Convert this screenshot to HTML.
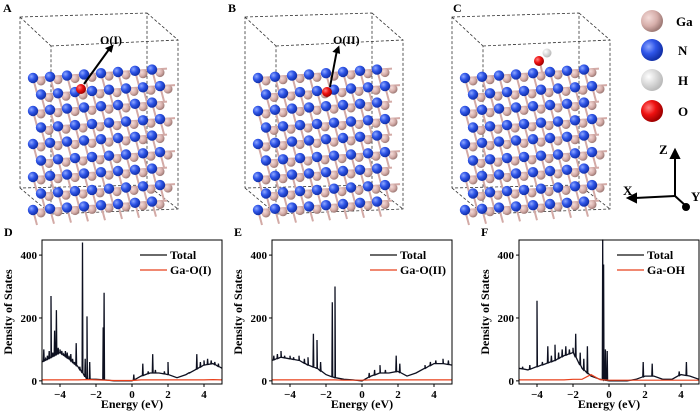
<!DOCTYPE html>
<html><head><meta charset="utf-8"><style>
body{margin:0;background:#fff;}
svg{display:block;font-family:"Liberation Serif",serif;font-weight:bold;}
</style></head><body>
<svg id="fig" width="700" height="412" viewBox="0 0 700 412">
<defs>
<radialGradient id="gN" cx="35%" cy="35%" r="65%"><stop offset="0" stop-color="#8fa8ff"/><stop offset="0.5" stop-color="#2f55e8"/><stop offset="1" stop-color="#1230a8"/></radialGradient>
<radialGradient id="gGa" cx="35%" cy="35%" r="65%"><stop offset="0" stop-color="#f4dcd9"/><stop offset="0.6" stop-color="#d6aeaa"/><stop offset="1" stop-color="#a07c78"/></radialGradient>
<radialGradient id="gH" cx="35%" cy="35%" r="65%"><stop offset="0" stop-color="#ffffff"/><stop offset="1" stop-color="#bbbbbb"/></radialGradient>
<radialGradient id="gO" cx="35%" cy="35%" r="65%"><stop offset="0" stop-color="#ff8080"/><stop offset="0.5" stop-color="#ee1010"/><stop offset="1" stop-color="#a00000"/></radialGradient>
</defs>
<g id="structs"></g>
<g id="legendAtoms">
<circle cx="652" cy="21" r="11" fill="url(#gGa)"/><text x="676" y="26" font-size="13">Ga</text>
<circle cx="652" cy="50" r="11" fill="url(#gN)"/><text x="678" y="55" font-size="13">N</text>
<circle cx="652" cy="80" r="11" fill="url(#gH)"/><text x="678" y="85" font-size="13">H</text>
<circle cx="652" cy="111" r="11" fill="url(#gO)"/><text x="678" y="116" font-size="13">O</text>
</g>
<g stroke="#000" stroke-width="2" fill="none">
<line x1="675" y1="196" x2="675" y2="156"/><polygon points="671,158 679,158 675,150" fill="#000"/>
<line x1="675" y1="196" x2="634" y2="198"/><polygon points="636,194 636,202 628,198" fill="#000"/>
<line x1="675" y1="196" x2="686" y2="206"/><circle cx="686" cy="207" r="3" fill="#000"/>
<text x="659" y="154" font-size="13" fill="#000" stroke="none">Z</text>
<text x="623" y="195" font-size="13" fill="#000" stroke="none">X</text>
<text x="691" y="201" font-size="13" fill="#000" stroke="none">Y</text>
</g>
<g id="charts"></g>
</svg>
<script>
const energyGrid = [-5,-4.5,-4,-3.5,-3,-2.5,-2,-1.5,-1,-0.5,0,0.5,1,1.5,2,2.5,3,3.5,4,4.5,5];
const totalD = [60,75,90,70,45,5,5,3,0,0,0,15,25,25,20,10,20,35,50,55,40];
const partD  = [3,3,3,3,3,4,3,2,1,1,1,3,3,3,3,3,3,3,3,4,3];
const spikesD = [[-4.9,100],[-4.8,70],[-4.7,80],[-4.6,95],[-4.5,270],[-4.4,90],[-4.3,160],[-4.2,225],[-4.1,105],[-4.0,100],[-3.9,95],[-3.8,85],[-3.7,95],[-3.6,90],[-3.5,80],[-3.4,85],[-3.3,70],[-3.2,60],[-3.1,120],[-2.9,45],[-2.75,440],[-2.6,70],[-2.5,205],[-2.35,60],[-1.6,170],[-1.55,280],[0.1,20],[0.6,55],[0.9,30],[1.15,85],[1.3,35],[1.8,30],[2.0,60],[3.2,25],[3.6,85],[3.8,60],[4.0,65],[4.2,70],[4.4,65],[4.6,60],[4.8,55]];
const totalE = [65,75,70,65,50,40,20,10,5,3,0,15,25,25,30,15,25,40,55,55,50];
const partE  = [3,3,3,3,3,3,3,3,2,2,2,3,3,3,3,3,3,3,3,3,3];
const spikesE = [[-4.9,80],[-4.7,85],[-4.5,95],[-4.3,80],[-4.0,80],[-3.8,75],[-3.5,80],[-3.2,70],[-3.0,75],[-2.7,150],[-2.5,130],[-2.3,60],[-1.65,250],[-1.5,300],[0.4,25],[0.7,35],[1.0,50],[1.3,35],[1.9,80],[2.1,55],[3.5,50],[3.8,60],[4.1,65],[4.5,70],[4.8,65]];
const totalF = [40,35,45,55,65,80,90,40,15,5,0,0,0,5,15,15,5,5,20,15,5];
const partF  = [3,3,3,3,3,3,5,5,20,4,2,2,2,2,2,2,2,2,2,2,2];
const spikesF = [[-4.8,45],[-4.4,50],[-4.0,255],[-3.7,60],[-3.4,110],[-3.2,80],[-3.0,115],[-2.8,90],[-2.6,100],[-2.4,110],[-2.2,100],[-2.0,105],[-1.85,150],[-1.6,90],[-1.4,70],[-1.2,110],[-0.35,450],[-0.3,370],[-0.2,100],[-0.1,95],[1.9,60],[2.4,55],[3.9,30],[4.3,60]];
const xTicks = [-4,-2,0,2,4];
const yTicks = [0,200,400];
const legendNames = ["Ga-O(I)","Ga-O(II)","Ga-OH"];
const panelLetters = ["D","E","F"];

const NS="http://www.w3.org/2000/svg";
function mk(tag,attrs,parent){const e=document.createElementNS(NS,tag);for(const k in attrs)e.setAttribute(k,attrs[k]);parent.appendChild(e);return e;}

const sg=document.getElementById('structs');
const structLetters=["A","B","C"];
[0,225,432].forEach((ox,pi)=>{
  const g=mk('g',{},sg);
  
  
  const t=mk('text',{x:(pi==2?450:ox)+3,y:12,'font-size':12},g);t.textContent=structLetters[pi];
  
  const bx=ox+20,by=17,w=127,h=168,dx=31,dy=29;
  const d=`M${bx},${by}L${bx+w},${by-4}L${bx+w},${by+h}L${bx},${by+h+3}Z M${bx+dx},${by+dy}L${bx+w+dx},${by+dy-6}L${bx+w+dx},${by+h+dy-5}L${bx+dx},${by+h+dy}Z M${bx},${by}L${bx+dx},${by+dy} M${bx+w},${by-4}L${bx+w+dx},${by+dy-6} M${bx+w},${by+h}L${bx+w+dx},${by+h+dy-5} M${bx},${by+h+3}L${bx+dx},${by+h+dy}`;
  mk('path',{d:d,fill:'none',stroke:'#333','stroke-width':0.8,'stroke-dasharray':'3,2'},g);
  const atoms=mk('g',{},g);
  for(let r=0;r<9;r++){
    for(let c=0;c<8;c++){
      const x=ox+33+c*17+(r%2)*8, y=78+r*16.5-c*1.2;
      mk('line',{x1:x,y1:y,x2:x+15,y2:y-1,stroke:'#d3aaa6','stroke-width':2},atoms);
      mk('line',{x1:x,y1:y,x2:x+4,y2:y+15,stroke:'#d3aaa6','stroke-width':2},atoms);
      mk('circle',{cx:x+8,cy:y+3,r:4.5,fill:'url(#gGa)'},atoms);
      mk('circle',{cx:x,cy:y,r:5.2,fill:'url(#gN)'},atoms);
    }
  }
  if(pi<2){
    const oxp=pi==0?ox+81:ox+102, oyp=pi==0?89:92;
    mk('circle',{cx:oxp,cy:oyp,r:5,fill:'url(#gO)'},g);
    const tx=pi==0?ox+110:ox+112, ty=pi==0?48:50;
    mk('line',{x1:oxp+3,y1:oyp-5,x2:tx,y2:ty,stroke:'#000','stroke-width':2},g);
    mk('polygon',{points:`${tx-4},${ty+3} ${tx+4},${ty+3} ${tx+1},${ty-5}`,fill:'#000',transform:`rotate(${pi==0?35:15} ${tx} ${ty})`},g);
    const lt=mk('text',{x:pi==0?ox+100:ox+108,y:44,'font-size':12},g);lt.textContent=pi==0?"O(I)":"O(II)";
    
  } else {
    mk('line',{x1:ox+108,y1:62,x2:ox+110,y2:72,stroke:'#d3aaa6','stroke-width':2},g);
    mk('circle',{cx:ox+107,cy:61,r:5,fill:'url(#gO)'},g);
    mk('circle',{cx:ox+115,cy:53,r:4.5,fill:'url(#gH)'},g);
  }
});

const cg=document.getElementById('charts');
const panels=[{x0:42,tot:totalD,part:partD,sp:spikesD},{x0:272,tot:totalE,part:partE,sp:spikesE},{x0:519,tot:totalF,part:partF,sp:spikesF}];
const plotTop=240,plotBot=384,W=180,yMin=-10,yMax=448;
function build(series,spikes,xs,ys){
  let pts=[];
  for(let i=0;i<energyGrid.length;i++)pts.push([energyGrid[i],series[i]]);
  const sp=spikes.slice().sort((a,b)=>a[0]-b[0]);
  sp.forEach(s=>{
    let base=0;for(let i=0;i<energyGrid.length-1;i++){if(s[0]>=energyGrid[i]&&s[0]<=energyGrid[i+1]){const f=(s[0]-energyGrid[i])/(energyGrid[i+1]-energyGrid[i]);base=series[i]+(series[i+1]-series[i])*f;}}
    pts.push([s[0]-0.02,base],[s[0],s[1]],[s[0]+0.02,base]);
  });
  pts.sort((a,b)=>a[0]-b[0]);
  return pts.map(p=>xs(p[0]).toFixed(1)+','+ys(p[1]).toFixed(1)).join(' ');
}
panels.forEach((p,pi)=>{
  const xs=e=>p.x0+(e+5)/10*W, ys=v=>plotBot-(v-yMin)/(yMax-yMin)*(plotBot-plotTop);
  const g=mk('g',{},cg);
  
  
  const lt=mk('text',{x:p.x0-38,y:236,'font-size':12},g);lt.textContent=panelLetters[pi];
  
  const tl=mk('polyline',{points:build(p.tot,p.sp,xs,ys),fill:'none',stroke:'#0d1020','stroke-width':1.3},g);
  
  const pl=mk('polyline',{points:build(p.part,[],xs,ys),fill:'none',stroke:'#e8401c','stroke-width':1.2},g);
  
  const fr=mk('rect',{x:p.x0,y:plotTop,width:W,height:plotBot-plotTop,fill:'none',stroke:'#000','stroke-width':1},g);
  
  xTicks.forEach(t=>{
    mk('line',{x1:xs(t),y1:plotBot,x2:xs(t),y2:plotBot+3,stroke:'#000'},g);
    const tx=mk('text',{x:xs(t),y:plotBot+14,'font-size':11,'text-anchor':'middle'},g);tx.textContent=t<0?'\u2212'+(-t):t;
    
  });
  yTicks.forEach(t=>{
    mk('line',{x1:p.x0-3,y1:ys(t),x2:p.x0,y2:ys(t),stroke:'#000'},g);
    const ty=mk('text',{x:p.x0-5,y:ys(t)+4,'font-size':11,'text-anchor':'end'},g);ty.textContent=t;
    
  });
  const xt=mk('text',{x:p.x0+W/2,y:408,'font-size':12,'text-anchor':'middle'},g);xt.textContent='Energy (eV)';
  
  const yt=mk('text',{x:0,y:0,'font-size':12,'text-anchor':'middle',transform:`translate(${p.x0-30},${(plotTop+plotBot)/2}) rotate(-90)`},g);yt.textContent='Density of States';
  
  const lx=p.x0+W-82;
  const l1=mk('g',{},g);
  mk('line',{x1:lx,y1:255,x2:lx+27,y2:255,stroke:'#111','stroke-width':1.2},l1);
  mk('text',{x:lx+30,y:259,'font-size':12},l1).textContent='Total';
  const l2=mk('g',{},g);
  mk('line',{x1:lx,y1:270,x2:lx+27,y2:270,stroke:'#e8401c','stroke-width':1.2},l2);
  mk('text',{x:lx+30,y:274,'font-size':12},l2).textContent=legendNames[pi];
});
</script>
</body></html>
